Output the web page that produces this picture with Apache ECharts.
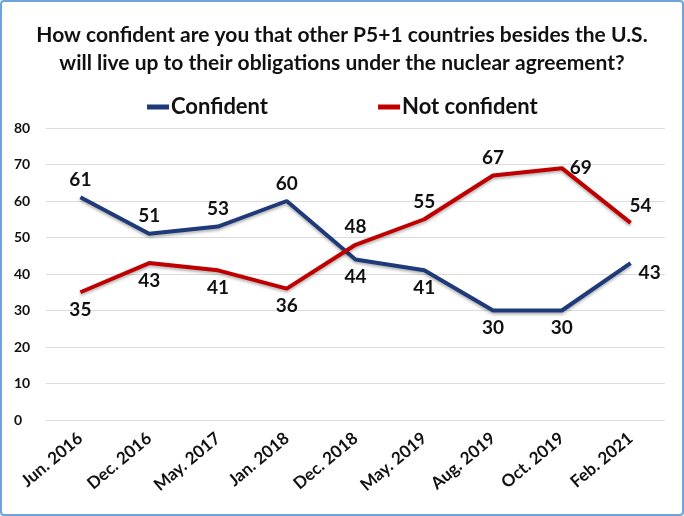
<!DOCTYPE html>
<html>
<head>
<meta charset="utf-8">
<script src="https://cdn.jsdelivr.net/npm/echarts@6/dist/echarts.min.js"></script>
<style>
html, body { margin: 0; padding: 0; background: #fff; }
#chart {
  width: 680px;
  height: 512px;
  border: 2px solid #6fa3dc;
  border-radius: 4px;
}
</style>
</head>
<body>
<div id="chart"></div>
<script>
// survey waves
var waves = ["Jun. 2016", "Dec. 2016", "May. 2017", "Jan. 2018", "Dec. 2018", "May. 2019", "Aug. 2019", "Oct. 2019", "Feb. 2021"];
var confident = [61, 51, 53, 60, 44, 41, 30, 30, 43];
var notConfident = [35, 43, 41, 36, 48, 55, 67, 69, 54];
var confidentPos = ["top", "top", "top", "top", "bottom", "bottom", "bottom", "bottom", "right"];
var notConfidentPos = ["bottom", "bottom", "bottom", "bottom", "top", "top", "top", "right", "top"];

var fontName = "Lato, 'Open Sans', sans-serif";

function withLabels(vals, pos) {
  return vals.map(function (v, i) {
    return { value: v, label: { position: pos[i] } };
  });
}

var confData = withLabels(confident, confidentPos);
confData[8].label.offset = [0, 10];
var notData = withLabels(notConfident, notConfidentPos);
notData[8].label.offset = [10, 0];

var chart = echarts.init(document.getElementById("chart"));
chart.setOption({
  animation: false,
  title: {
    text: "How confident are you that other P5+1 countries besides the U.S.\nwill live up to their obligations under the nuclear agreement?",
    left: "center",
    top: 14,
    textStyle: { fontFamily: fontName, fontWeight: "bold", fontSize: 21, color: "#111", lineHeight: 28 }
  },
  legend: {
    top: 89,
    left: 140,
    itemGap: 110,
    itemWidth: 22,
    itemHeight: 5,
    icon: "rect",
    textStyle: { fontFamily: fontName, fontSize: 22, fontWeight: "bold", color: "#111", padding: [0, 0, 0, -3] },
    data: ["Confident", "Not confident"]
  },
  grid: { left: 44, right: 17, top: 126, bottom: 94 },
  xAxis: {
    type: "category",
    data: waves,
    axisLine: { show: false },
    axisTick: { show: false },
    axisLabel: { rotate: 40, interval: 0, margin: 16, fontFamily: fontName, fontWeight: "bold", fontSize: 17, color: "#111" }
  },
  yAxis: {
    type: "value",
    min: 0,
    max: 80,
    interval: 10,
    axisLabel: { fontFamily: fontName, fontWeight: "bold", fontSize: 14, color: "#111", margin: 32, align: "left" },
    splitLine: { lineStyle: { color: "#dcdcdc" } }
  },
  series: [
    {
      name: "Confident",
      type: "line",
      data: confData,
      showSymbol: true,
      symbol: "circle",
      symbolSize: 0,
      color: "#1f3a78",
      lineStyle: { width: 4, color: "#1f3a78", shadowColor: "rgba(0,0,0,0.3)", shadowBlur: 3, shadowOffsetY: 2 },
      label: { show: true, distance: 8, fontFamily: fontName, fontWeight: "bold", fontSize: 19, color: "#111" }
    },
    {
      name: "Not confident",
      type: "line",
      data: notData,
      showSymbol: true,
      symbol: "circle",
      symbolSize: 0,
      color: "#c00000",
      lineStyle: { width: 4, color: "#c00000", shadowColor: "rgba(0,0,0,0.3)", shadowBlur: 3, shadowOffsetY: 2 },
      label: { show: true, distance: 8, fontFamily: fontName, fontWeight: "bold", fontSize: 19, color: "#111" }
    }
  ]
});
</script>
</body>
</html>
